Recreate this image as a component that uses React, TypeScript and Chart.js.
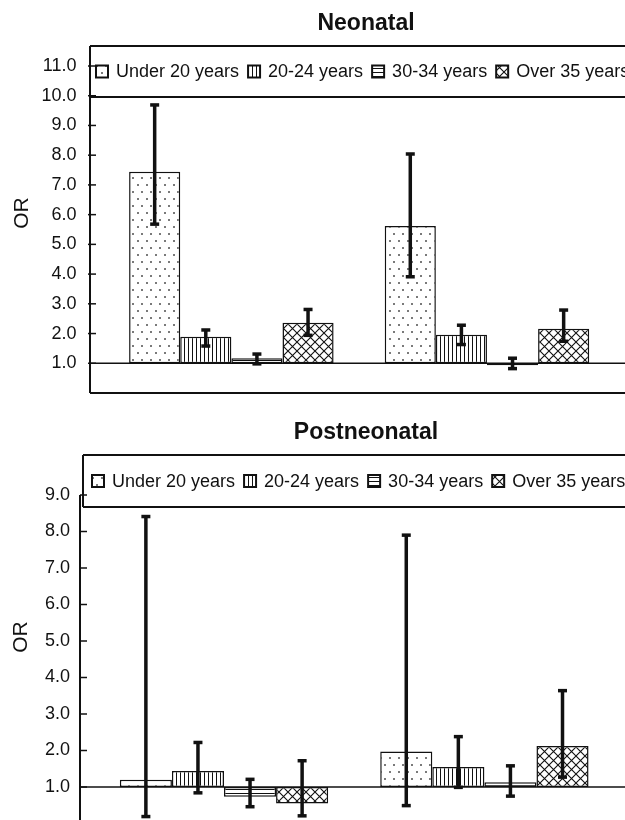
import React, { useEffect, useRef } from "react";
import { Chart, registerables } from "chart.js";

Chart.register(...registerables);

// ---------------- data ----------------
const seriesLabels = ["Under 20 years", "20-24 years", "30-34 years", "Over 35 years"];
const groupPositions = [0, 1]; // two unlabeled groups
const baselineOR = 1;

// Neonatal
const neoTitle = "Neonatal";
const neoTicks = [1, 2, 3, 4, 5, 6, 7, 8, 9, 10, 11];
const neoUnder20 = [7.44, 5.62];
const neoUnder20Low = [5.68, 3.91];
const neoUnder20High = [9.69, 8.04];
const neo20to24 = [1.89, 1.96];
const neo20to24Low = [1.58, 1.63];
const neo20to24High = [2.12, 2.28];
const neo30to34 = [1.17, 0.93];
const neo30to34Low = [0.98, 0.82];
const neo30to34High = [1.31, 1.17];
const neoOver35 = [2.36, 2.16];
const neoOver35Low = [1.94, 1.74];
const neoOver35High = [2.81, 2.79];

// Postneonatal
const postTitle = "Postneonatal";
const postTicks = [1, 2, 3, 4, 5, 6, 7, 8, 9];
const postUnder20 = [1.2, 1.97];
const postUnder20Low = [0.19, 0.49];
const postUnder20High = [8.41, 7.9];
const post20to24 = [1.44, 1.55];
const post20to24Low = [0.84, 0.99];
const post20to24High = [2.22, 2.38];
const post30to34 = [0.73, 1.13];
const post30to34Low = [0.46, 0.75];
const post30to34High = [1.21, 1.58];
const postOver35 = [0.55, 2.12];
const postOver35Low = [0.21, 1.27];
const postOver35High = [1.72, 3.64];

const axisLabel = "OR";

// ---------------- styling ----------------
const INK = "#111";
const FONT = "'Liberation Sans', Arial, sans-serif";

type Panel = {
  title: string;
  values: number[][];
  lows: number[][];
  highs: number[][];
  ticks: number[];
  yMax: number;
  height: number;
  padTop: number;
  padBottom: number;
  axisWidth: number;
  labelGap: number;
  legendLeft: number;
  legendTop: number;
  legendBottom: number;
  legendStart: number;
  legendGap: number;
  axisFromLegend: boolean;
  tickIn: number;
  tickOut: number;
  titleX: number;
  titleY: number;
  orX: number;
  orY: number;
};

const neoPanel: Panel = {
  title: neoTitle,
  values: [neoUnder20, neo20to24, neo30to34, neoOver35],
  lows: [neoUnder20Low, neo20to24Low, neo30to34Low, neoOver35Low],
  highs: [neoUnder20High, neo20to24High, neo30to34High, neoOver35High],
  ticks: neoTicks,
  yMax: 11,
  height: 405,
  padTop: 66,
  padBottom: 12,
  axisWidth: 90,
  labelGap: 13.5,
  legendLeft: 90,
  legendTop: 46,
  legendBottom: 97,
  legendStart: 96,
  legendGap: 9,
  axisFromLegend: true,
  tickIn: 6,
  tickOut: 2,
  titleX: 366,
  titleY: 30,
  orX: 22,
  orY: 213,
};

const postPanel: Panel = {
  title: postTitle,
  values: [postUnder20, post20to24, post30to34, postOver35],
  lows: [postUnder20Low, post20to24Low, post30to34Low, postOver35Low],
  highs: [postUnder20High, post20to24High, post30to34High, postOver35High],
  ticks: postTicks,
  yMax: 9,
  height: 430,
  padTop: 90,
  padBottom: 11.5,
  axisWidth: 80,
  labelGap: 10,
  legendLeft: 83,
  legendTop: 50,
  legendBottom: 102,
  legendStart: 92,
  legendGap: 9,
  axisFromLegend: false,
  tickIn: 7,
  tickOut: 0,
  titleX: 366,
  titleY: 34,
  orX: 21,
  orY: 232,
};

function makePatterns(target: CanvasRenderingContext2D): CanvasPattern[] {
  const tile = (w: number, h: number, draw: (c: CanvasRenderingContext2D) => void) => {
    const c = document.createElement("canvas");
    c.width = w;
    c.height = h;
    const g = c.getContext("2d")!;
    g.fillStyle = "#fff";
    g.fillRect(0, 0, w, h);
    draw(g);
    return target.createPattern(c, "repeat")!;
  };
  const dots = tile(9, 14, (g) => {
    g.fillStyle = "#7a7a7a";
    g.fillRect(2, 2, 2, 2);
    g.fillRect(6, 9, 2, 2);
  });
  const vlines = tile(4, 4, (g) => {
    g.fillStyle = INK;
    g.fillRect(0, 0, 1, 4);
  });
  const hlines = tile(4, 4, (g) => {
    g.fillStyle = INK;
    g.fillRect(0, 0, 4, 1);
  });
  const cross = tile(9, 9, (g) => {
    g.strokeStyle = INK;
    g.lineWidth = 1.1;
    g.beginPath();
    g.moveTo(-1, -1);
    g.lineTo(10, 10);
    g.moveTo(10, -1);
    g.lineTo(-1, 10);
    g.stroke();
  });
  return [dots, vlines, hlines, cross];
}

function decor(p: Panel, patterns: CanvasPattern[]) {
  return {
    id: "decor",
    beforeDatasetsDraw(chart: any) {
      const { ctx, chartArea: a } = chart;
      const y = chart.scales.y;
      ctx.save();
      ctx.strokeStyle = INK;
      ctx.lineWidth = 1.5;
      const yb = y.getPixelForValue(baselineOR);
      ctx.beginPath();
      ctx.moveTo(a.left, yb);
      ctx.lineTo(chart.width, yb);
      ctx.stroke();
      ctx.restore();
    },
    afterDatasetsDraw(chart: any) {
      const { ctx, chartArea: a } = chart;
      const y = chart.scales.y;
      const W = chart.width;
      const line = (x1: number, y1: number, x2: number, y2: number) => {
        ctx.beginPath();
        ctx.moveTo(x1, y1);
        ctx.lineTo(x2, y2);
        ctx.stroke();
      };
      ctx.save();
      ctx.strokeStyle = INK;
      ctx.fillStyle = INK;

      // error bars
      ctx.lineWidth = 3.5;
      p.lows.forEach((lows, i) => {
        const meta = chart.getDatasetMeta(i);
        lows.forEach((lo, j) => {
          const hi = p.highs[i][j];
          const bx = meta.data[j].x;
          const y1 = y.getPixelForValue(lo);
          const y2 = y.getPixelForValue(hi);
          line(bx, y1, bx, y2);
          line(bx - 4.5, y1, bx + 4.5, y1);
          line(bx - 4.5, y2, bx + 4.5, y2);
        });
      });

      // frame: axis line and bottom
      ctx.lineWidth = 2;
      const axisTop = p.axisFromLegend ? p.legendTop : a.top;
      line(a.left, axisTop, a.left, a.bottom);
      line(a.left, a.bottom, W, a.bottom);

      // legend box
      ctx.fillStyle = "#fff";
      ctx.fillRect(p.legendLeft, p.legendTop, W - p.legendLeft, p.legendBottom - p.legendTop);
      line(p.legendLeft, p.legendTop, W, p.legendTop);
      line(p.legendLeft, p.legendBottom, W, p.legendBottom);
      line(p.legendLeft, p.legendTop, p.legendLeft, p.legendBottom);

      // tick marks
      ctx.lineWidth = 1.5;
      p.ticks.forEach((v) => {
        const ty = y.getPixelForValue(v);
        line(a.left - p.tickOut, ty, a.left + p.tickIn, ty);
      });

      // legend items
      ctx.font = `18px ${FONT}`;
      ctx.textAlign = "left";
      ctx.textBaseline = "middle";
      const cy = (p.legendTop + p.legendBottom) / 2;
      let x = p.legendStart;
      const m = 12;
      const textGap = 8;
      chart.data.datasets.forEach((ds: any, i: number) => {
        ctx.fillStyle = patterns[i];
        ctx.fillRect(x, cy - m / 2, m, m);
        ctx.lineWidth = 2;
        ctx.strokeStyle = INK;
        ctx.strokeRect(x, cy - m / 2, m, m);
        ctx.fillStyle = INK;
        ctx.fillText(ds.label, x + m + textGap, cy + 1);
        x += m + textGap + ctx.measureText(ds.label).width + p.legendGap;
      });

      // title
      ctx.font = `bold 23px ${FONT}`;
      ctx.textAlign = "center";
      ctx.textBaseline = "alphabetic";
      ctx.fillText(p.title, p.titleX, p.titleY);

      // y-axis label
      ctx.save();
      ctx.translate(p.orX, p.orY);
      ctx.rotate(-Math.PI / 2);
      ctx.font = `21px ${FONT}`;
      ctx.textAlign = "center";
      ctx.textBaseline = "middle";
      ctx.fillText(axisLabel, 0, 0);
      ctx.restore();

      ctx.restore();
    },
  };
}

function buildChart(canvas: HTMLCanvasElement, p: Panel) {
  const ctx = canvas.getContext("2d")!;
  const patterns = makePatterns(ctx);
  return new Chart(canvas, {
    type: "bar",
    data: {
      datasets: seriesLabels.map((label, i) => ({
        label,
        data: groupPositions.map((gx, j) => ({ x: gx, y: [baselineOR, p.values[i][j]] })),
        backgroundColor: patterns[i] as any,
        borderColor: INK,
        borderWidth: 1.5,
        borderSkipped: false,
        categoryPercentage: 0.8,
        barPercentage: 1.0,
      })) as any,
    },
    options: {
      responsive: false,
      animation: false,
      events: [],
      layout: { padding: { top: p.padTop, bottom: p.padBottom, left: 0, right: 0 } },
      plugins: {
        legend: { display: false },
        title: { display: false },
        tooltip: { enabled: false },
      },
      scales: {
        x: {
          type: "linear",
          display: false,
          offset: false,
          min: -0.553,
          max: 1.54,
          grid: { display: false },
          afterBuildTicks: (s: any) => {
            s.ticks = groupPositions.map((v) => ({ value: v }));
          },
        },
        y: {
          type: "linear",
          min: 0,
          max: p.yMax,
          afterBuildTicks: (s: any) => {
            s.ticks = p.ticks.map((v) => ({ value: v }));
          },
          afterFit: (s: any) => {
            s.width = p.axisWidth;
          },
          grid: { display: false, drawTicks: true, tickLength: p.labelGap },
          border: { display: false },
          ticks: {
            padding: 0,
            color: INK,
            font: { family: FONT, size: 18 },
            callback: (v: any) => Number(v).toFixed(1),
          },
        },
      } as any,
    },
    plugins: [decor(p, patterns) as any],
  });
}

function Panel({ p }: { p: Panel }) {
  const ref = useRef<HTMLCanvasElement | null>(null);
  useEffect(() => {
    if (!ref.current) return;
    const chart = buildChart(ref.current, p);
    return () => chart.destroy();
  }, [p]);
  return <canvas ref={ref} width={625} height={p.height} style={{ display: "block" }} />;
}

export default function App() {
  return (
    <div
      style={{
        position: "fixed",
        left: 0,
        top: 0,
        width: 625,
        height: 820,
        overflow: "hidden",
        background: "#fff",
      }}
    >
      <Panel p={neoPanel} />
      <Panel p={postPanel} />
    </div>
  );
}
